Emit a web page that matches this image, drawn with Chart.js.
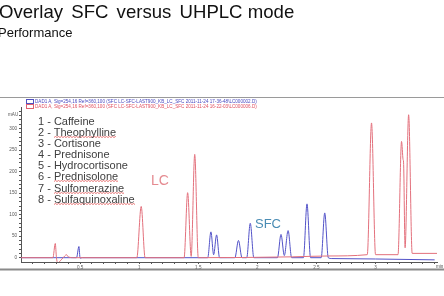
<!DOCTYPE html>
<html><head><meta charset="utf-8">
<script src="https://cdn.jsdelivr.net/npm/chart.js@4/dist/chart.umd.min.js"></script>
<style>
html,body{margin:0;padding:0;background:#fff;overflow:hidden;}
#wrap{position:relative;width:444px;height:296px;font-family:"Liberation Sans",Arial,sans-serif;}
canvas{position:absolute;left:0;top:0;}
.t{position:absolute;white-space:nowrap;}
#title{left:-1px;top:1px;font-size:18.6px;color:#111;}
#title .w{margin-right:3px;}
#sub{left:-2px;top:25px;font-size:13px;color:#111;}
#list{left:38px;top:116px;font-size:11px;color:#404040;line-height:11.1px;}
.sp{background-image:url("data:image/svg+xml;utf8,<svg xmlns='http://www.w3.org/2000/svg' width='3' height='2'><path d='M0 1.5 L1.5 0.5 L3 1.5' fill='none' stroke='%23e04040' stroke-width='0.7'/></svg>");background-repeat:repeat-x;background-position:0 100%;background-size:3px 2px;}
.lg{position:absolute;left:35px;font-size:4.6px;}
.box{position:absolute;left:26px;width:6px;height:3px;border:1px solid;}
</style></head><body>
<div id="wrap">
<canvas id="c" width="444" height="296"></canvas>
<div class="t" id="title"><span class="w">Overlay</span> <span class="w">SFC</span> <span class="w">versus</span> UHPLC mode</div>
<div class="t" id="sub">Performance</div>
<div class="box" style="top:99px;border-color:#5050c0"></div>
<div class="box" style="top:104px;border-color:#e06070"></div>
<div class="t lg" style="top:99px;color:#4848c0">DAD1 A, Sig=254,16 Ref=360,100 (SFC LC-SFC-LAST900_KB_LC_SFC 2011-11-24 17-36-48\LC000002.D)</div>
<div class="t lg" style="top:104px;color:#e05060">DAD1 A, Sig=254,16 Ref=360,100 (SFC LC-SFC-LAST900_KB_LC_SFC 2011-11-24 16-22-03\LC000006.D)</div>
<div class="t" id="list">1 - Caffeine<br>2 - <span class="sp">Theophylline</span><br>3 - Cortisone<br>4 - Prednisone<br>5 - Hydrocortisone<br>6 - <span class="sp">Prednisolone</span><br>7 - <span class="sp">Sulfomerazine</span><br>8 - <span class="sp">Sulfaquinoxaline</span></div>
</div>
<script>
// Retention time (min) and absorbance (mAU)
const sfcTime   = [0, 0.47, 0.49, 0.50, 0.52, 1.58, 1.607, 1.63, 1.655, 1.68, 1.81, 1.84, 1.87, 1.91, 1.94, 1.97, 2.17, 2.20, 2.228, 2.26, 2.29, 2.39, 2.42, 2.45, 2.54, 2.57, 2.60, 2.63, 3.0, 3.5];
const sfcSignal = [0, 0,    26,   -1,   0,    0,    60,    7,    53,    0,    0,    40,   0,    0,    80,   0,    0,    54,   5,     63,   0,    0,    125,  0,    0,    104,  0,    -2,   -3,  -5];
const lcTime    = [0, 0.27, 0.29, 0.30, 0.31, 0.34, 0.37, 0.385, 0.40, 0.45, 0.98, 1.017, 1.05, 1.38, 1.41, 1.44, 1.47, 1.50, 2.3, 2.6, 2.93, 2.966, 3.00, 3.19, 3.22, 3.233, 3.237, 3.25, 3.28, 3.31, 3.52];
const lcSignal  = [0, 0,    33,   0,    -12,  -5,   4,    7,     2,    0,    0,    119,   0,    0,    151,  3,    240,  0,    2,   4,   7,    313,   7,    7,    270,  228,   222,   23,   332,  10,   10];
const xTickLabels = ['0.5','1','1.5','2','2.5','3'];
const yTickLabels = ['0','50','100','150','200','250','300'];
const seriesNames = ['SFC','LC'];

const toPts = (xs, ys) => xs.map((x, i) => ({x, y: ys[i]}));

const overlay = {
  id: 'overlay',
  afterDraw(chart) {
    const {ctx, scales:{x, y}} = chart;
    ctx.save();
    ctx.strokeStyle = '#9a9a9a'; ctx.lineWidth = 1;
    ctx.beginPath(); ctx.moveTo(0, 97.5); ctx.lineTo(444, 97.5); ctx.stroke();
    ctx.strokeStyle = '#8a8a8a'; ctx.lineWidth = 2;
    ctx.beginPath(); ctx.moveTo(0, 269.5); ctx.lineTo(444, 269.5); ctx.stroke();
    ctx.font = '14px "Liberation Sans", Arial';
    ctx.fillStyle = '#e58a90';
    ctx.fillText(seriesNames[1], x.getPixelForValue(1.1), y.getPixelForValue(170));
    ctx.font = '13px "Liberation Sans", Arial';
    ctx.fillStyle = '#4a8cb4';
    ctx.fillText(seriesNames[0], x.getPixelForValue(1.98), y.getPixelForValue(70));
    ctx.font = '4.6px "Liberation Sans", Arial';
    ctx.fillStyle = '#555';
    ctx.fillText('mAU', 8, 116);
    ctx.fillText('min', 436, 268);
    ctx.restore();
  }
};

new Chart(document.getElementById('c'), {
  type: 'line',
  data: {
    datasets: [
      {label: seriesNames[1], data: toPts(lcTime, lcSignal), borderColor: '#e3707c', borderWidth: 1, pointRadius: 0, cubicInterpolationMode: 'monotone'},
      {label: seriesNames[0], data: toPts(sfcTime, sfcSignal), borderColor: '#5252c8', borderWidth: 1, pointRadius: 0, cubicInterpolationMode: 'monotone'}
    ]
  },
  options: {
    responsive: false, animation: false,
    layout: {padding: {top: 107, right: 7, left: 0, bottom: 0}},
    plugins: {legend: {display: false}, tooltip: {enabled: false}},
    scales: {
      x: {
        type: 'linear', min: 0, max: 3.52,
        afterFit: s => { s.height = 34; },
        afterBuildTicks: s => { const t=[]; for (let i=1;i<=35;i++) t.push({value: i/10}); s.ticks = t; },
        border: {color: '#555', width: 1},
        grid: {drawOnChartArea: false, drawTicks: true, tickLength: 2, color: '#555'},
        ticks: {autoSkip: false, maxRotation: 0, padding: 1, font: {size: 4.6}, color: '#555',
          callback: v => { const k = Math.round(v*10); return (k % 5 === 0 && k <= 30) ? xTickLabels[k/5 - 1] : ''; }}
      },
      y: {
        min: -10, max: 350,
        afterFit: s => { s.width = 21; },
        afterBuildTicks: s => { const t=[]; for (let v=0; v<=340; v+=10) t.push({value: v}); s.ticks = t; },
        border: {color: '#555', width: 1},
        grid: {drawOnChartArea: false, drawTicks: true, tickLength: 2, color: '#555'},
        ticks: {autoSkip: false, padding: 2, font: {size: 4.6}, color: '#555',
          callback: v => (v % 50 === 0 && v <= 300) ? yTickLabels[v/50] : ''}
      }
    }
  },
  plugins: [overlay]
});
</script>
</body></html>
